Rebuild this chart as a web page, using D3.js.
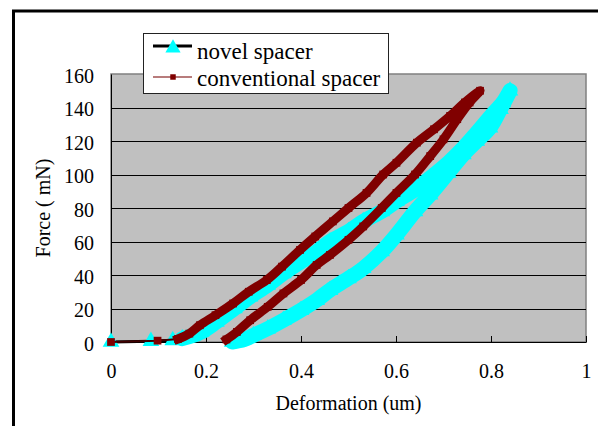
<!DOCTYPE html>
<html><head><meta charset="utf-8">
<script src="https://cdn.jsdelivr.net/npm/d3@7"></script>
<style>body{margin:0;background:#fff}svg{display:block}</style>
</head><body>
<svg id="c" width="598" height="426"></svg>
<script>
// ---- data ----
const seriesNames = ["novel spacer", "conventional spacer"];
const xTicks = [0, 0.2, 0.4, 0.6, 0.8, 1];
const xTickLabels = ["0", "0.2", "0.4", "0.6", "0.8", "1"];
const yTicks = [0, 20, 40, 60, 80, 100, 120, 140, 160];
const yTickLabels = ["0", "20", "40", "60", "80", "100", "120", "140", "160"];
const xTitle = "Deformation (um)";
const yTitle = "Force ( mN)";

const novelDeformation = [0, 0.084, 0.13, 0.15, 0.19, 0.222, 0.26, 0.293, 0.33, 0.363, 0.40, 0.433, 0.461, 0.50, 0.531, 0.57, 0.601, 0.64, 0.672, 0.71, 0.742, 0.77, 0.80, 0.825, 0.84,
  0.82, 0.798, 0.77, 0.742, 0.71, 0.672, 0.64, 0.601, 0.57, 0.531, 0.50, 0.461, 0.433, 0.40, 0.363, 0.33, 0.30, 0.28, 0.255];
const novelForce = [0, 0.5, 1, 2, 6, 12, 20, 27, 34, 41, 48, 54, 60, 66, 72, 78, 84, 91, 98, 107, 116, 125, 135, 143, 150,
  139, 128, 120, 112, 101, 88, 78, 64, 54, 44, 38, 31, 25, 19, 13, 8, 4, 1.5, 0];
const novelLoopStart = 3;

const convDeformation = [0, 0.098, 0.141, 0.165, 0.187, 0.22, 0.257, 0.29, 0.328, 0.36, 0.398, 0.43, 0.467, 0.50, 0.538, 0.573, 0.601, 0.644, 0.68, 0.714, 0.745, 0.777,
  0.755, 0.729, 0.70, 0.672, 0.64, 0.601, 0.57, 0.531, 0.50, 0.461, 0.433, 0.40, 0.363, 0.33, 0.293, 0.265, 0.243];
const convForce = [0, 0.8, 1.8, 5, 10, 16, 23, 30, 37, 45, 55, 63, 72, 80, 89, 100, 107, 119, 127, 135, 143, 150,
  143, 133, 121, 111, 100, 89, 80, 69, 61, 52, 46, 37, 29, 21, 13, 6, 1.5];
const convLoopStart = 2;

// ---- layout ----
const svg = d3.select("#c");
const FONT = "Liberation Serif";
const x = d3.scaleLinear().domain([0, 1]).range([111, 586]);
const y = d3.scaleLinear().domain([0, 160]).range([342, 74]);

// outer frame
svg.append("rect").attr("x", 13.5).attr("y", 11).attr("width", 700).attr("height", 600)
  .attr("fill", "#fff").attr("stroke", "#000").attr("stroke-width", 3);

// plot background
svg.append("rect").attr("x", x(0)).attr("y", y(160)).attr("width", x(1) - x(0)).attr("height", y(0) - y(160))
  .attr("fill", "#c0c0c0").attr("stroke", "#808080").attr("stroke-width", 1.5);

// gridlines
svg.append("g").selectAll("line").data(yTicks.filter(d => d > 0 && d < 160)).join("line")
  .attr("x1", x(0)).attr("x2", x(1)).attr("y1", d => Math.round(y(d)) + 0.5).attr("y2", d => Math.round(y(d)) + 0.5)
  .attr("stroke", "#000").attr("stroke-width", 1);

// axes
const xAxis = d3.axisBottom(x).tickValues(xTicks).tickSizeInner(-6).tickSizeOuter(0).tickFormat((d, i) => xTickLabels[i]);
const gx = svg.append("g").attr("transform", `translate(0,${y(0)})`).call(xAxis).attr("font-family", FONT);
gx.select(".domain").attr("stroke", "#000");
gx.selectAll(".tick line").attr("stroke", "#000");
gx.selectAll(".tick text").style("font-family", FONT).attr("font-size", 20).attr("fill", "#000").attr("dy", 0).attr("y", 36);

const yAxis = d3.axisLeft(y).tickValues(yTicks).tickSize(0).tickPadding(17).tickFormat((d, i) => yTickLabels[i]);
const gy = svg.append("g").attr("transform", `translate(${x(0)},0)`).call(yAxis).attr("font-family", FONT);
gy.select(".domain").attr("stroke", "#000");
gy.selectAll(".tick text").style("font-family", FONT).attr("font-size", 20).attr("fill", "#000").attr("dy", "0.42em");

// axis titles
svg.append("text").attr("x", (x(0) + x(1)) / 2).attr("y", 410).attr("text-anchor", "middle")
  .style("font-family", FONT).attr("font-size", 20).text(xTitle);
svg.append("text").attr("transform", `translate(50,${(y(0) + y(160)) / 2}) rotate(-90)`).attr("text-anchor", "middle")
  .style("font-family", FONT).attr("font-size", 20).text(yTitle);

// ---- series ----
const novel = novelDeformation.map((d, i) => [d, novelForce[i]]);
const conv = convDeformation.map((d, i) => [d, convForce[i]]);
const line = d3.line().x(d => x(d[0])).y(d => y(d[1]));
const smooth = d3.line().x(d => x(d[0])).y(d => y(d[1])).curve(d3.curveCatmullRom.alpha(0.5));
const tri = d3.symbol().type(d3.symbolTriangle).size(120);
const sq = d3.symbol().type(d3.symbolSquare).size(60);

// novel spacer
svg.append("path").attr("d", line(novel.slice(0, novelLoopStart + 1))).attr("fill", "none").attr("stroke", "#000").attr("stroke-width", 3);
svg.append("path").attr("d", smooth(novel.slice(novelLoopStart))).attr("fill", "none").attr("stroke", "#00ffff")
  .attr("stroke-width", 15).attr("stroke-linejoin", "round").attr("stroke-linecap", "round");
svg.append("g").selectAll("path").data(novel).join("path")
  .attr("transform", d => `translate(${x(d[0])},${y(d[1])})`).attr("d", tri).attr("fill", "#00ffff");

// conventional spacer
svg.append("path").attr("d", line(conv.slice(0, convLoopStart + 1))).attr("fill", "none").attr("stroke", "#400000").attr("stroke-width", 2);
svg.append("path").attr("d", smooth(conv.slice(convLoopStart))).attr("fill", "none").attr("stroke", "#800000")
  .attr("stroke-width", 9).attr("stroke-linejoin", "round").attr("stroke-linecap", "square");
svg.append("g").selectAll("path").data(conv).join("path")
  .attr("transform", d => `translate(${x(d[0])},${y(d[1])})`).attr("d", sq).attr("fill", "#800000");

// ---- legend ----
const lg = svg.append("g");
lg.append("rect").attr("x", 143.5).attr("y", 33.5).attr("width", 245).attr("height", 60)
  .attr("fill", "#fff").attr("stroke", "#222").attr("stroke-width", 1);
lg.append("line").attr("x1", 153).attr("x2", 192).attr("y1", 46).attr("y2", 46).attr("stroke", "#000").attr("stroke-width", 3);
lg.append("path").attr("transform", "translate(173,48)").attr("d", d3.symbol().type(d3.symbolTriangle).size(100)).attr("fill", "#00ffff");
lg.append("line").attr("x1", 153).attr("x2", 192).attr("y1", 77).attr("y2", 77).attr("stroke", "#a05050").attr("stroke-width", 1.5);
lg.append("path").attr("transform", "translate(173,77)").attr("d", d3.symbol().type(d3.symbolSquare).size(30)).attr("fill", "#800000");
lg.append("text").attr("x", 197).attr("y", 59).style("font-family", FONT).attr("font-size", 23).text(seriesNames[0]);
lg.append("text").attr("x", 197).attr("y", 86).style("font-family", FONT).attr("font-size", 23).text(seriesNames[1]);
</script>
</body></html>
